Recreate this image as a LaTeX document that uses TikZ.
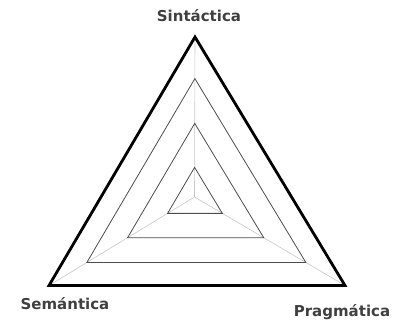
\documentclass[tikz,border=0pt]{standalone}
\usepackage{fontspec}
\setmainfont{DejaVu Sans}
\usetikzlibrary{calc, positioning}

\begin{document}
\begin{tikzpicture}[
    x=1pt, y=-1pt,
    every node/.style={font=\bfseries\fontsize{15}{17}\selectfont, text=black!75}
]

\tikzset{
    outertri/.style={draw=black, line width=2.8pt, line join=miter},
    innertri/.style={draw=black!70, line width=0.8pt},
    spoke/.style={draw=black!22, line width=0.6pt},
    vertexlabel/.style={inner sep=0pt}
}

\useasboundingbox (0,0) rectangle (394,323);

\coordinate (centre) at (194.5,197);
\coordinate (sin) at (195,37);
\coordinate (sem) at (49,285.5);
\coordinate (pra) at (345,285.5);

% spokes from the centre
\foreach \v in {sin,sem,pra}
    \draw [spoke] (centre) -- (\v);

% nested triangles
\foreach \f in {0.74,0.46,0.185}
    \draw [innertri] ($(centre)!\f!(sin)$) -- ($(centre)!\f!(sem)$) -- ($(centre)!\f!(pra)$) -- cycle;

\draw [outertri] (sin) -- (sem) -- (pra) -- cycle;

\node [vertexlabel] (sinlabel) [above=15pt of sin, xshift=4pt] {Sintáctica};
\node [vertexlabel] (semlabel) [below=12pt of sem, xshift=16pt] {Semántica};
\node [vertexlabel] (pralabel) [below=19pt of pra, xshift=-3pt] {Pragmática};

\end{tikzpicture}
\end{document}
